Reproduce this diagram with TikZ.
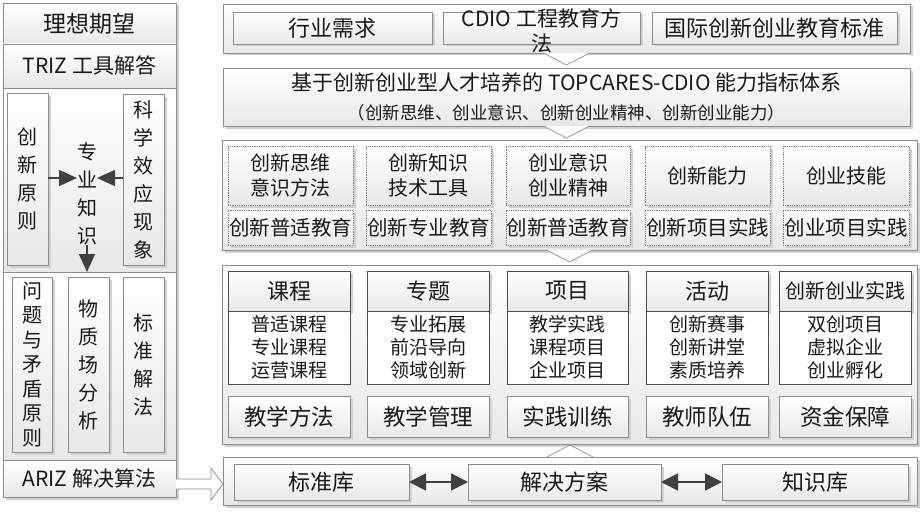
\documentclass[tikz,border=0pt]{standalone}
\usepackage{fontspec}
\setmainfont{Noto Sans CJK SC}
\usetikzlibrary{shadows,arrows.meta,calc}

\tikzset{
 base/.style={inner sep=0pt, outer sep=0pt, align=center, font=\fontsize{21}{25}\selectfont, text=black!90},
 shd/.style={drop shadow={shadow xshift=2.5pt, shadow yshift=-2.5pt, fill=black!18, opacity=1}},
 frame/.style={base, draw=black!45, line width=0.8pt, top color=white, bottom color=black!9, shd},
 dotbox/.style={base, draw=black!50, line width=0.8pt, densely dotted, top color=white, bottom color=black!9, shd},
 hdr/.style={base, draw=black!70, line width=0.8pt, top color=white, bottom color=black!9, font=\fontsize{22}{26}\selectfont},
 lst/.style={base, draw=black!70, line width=0.8pt, fill=white, font=\fontsize{19}{23}\selectfont},
 vt/.style={font=\fontsize{20}{28}\selectfont},
 chev/.style={draw=black!40, fill=white, line width=0.8pt},
 arr/.style={draw=black!75, line width=1.5pt, -{Triangle[length=18pt,width=16pt]}},
 dbl/.style={draw=black!75, line width=1.8pt, {Triangle[length=17pt,width=17pt]}-{Triangle[length=17pt,width=17pt]}},
 hollow/.style={draw=black!45, fill=white, line width=0.8pt},
}
\newcommand\bx[7]{\node[#6, minimum width={(#4-#2)*1pt}, minimum height={(#5-#3)*1pt}] (#1) at ({(#2+#4)/2},{(#3+#5)/2}) {#7};}

\begin{document}
\begin{tikzpicture}[x=1pt,y=-1pt]
\useasboundingbox (0,0) rectangle (920,511);

% ---------- left column ----------
\bx{L1}{3}{3}{176}{44}{frame,font=\fontsize{23}{27}\selectfont}{理想期望}
\bx{L2}{3}{44}{176}{88}{frame}{TRIZ 工具解答}
\bx{L3}{3}{88}{176}{272}{frame}{}
\bx{L4}{3}{272}{176}{460}{frame}{}
\bx{L5}{3}{460}{176}{497}{frame}{ARIZ 解决算法}

\bx{cx}{7}{93}{48}{265}{frame,vt}{创\\新\\原\\则}
\bx{kx}{123}{94}{164}{265}{frame,vt}{科\\学\\效\\应\\现\\象}
\node[base,vt] (zy) at (87,194) {专\\业\\知\\识};
\draw[arr] (cx.east |- 0,178) -- (zy.west |- 0,178);
\draw[arr] (kx.west |- 0,178) -- (zy.east |- 0,178);
\draw[arr] (zy.south) -- (zy.south |- L4.north);

\bx{wt}{12}{277}{52}{452}{frame,font=\fontsize{20}{24.5}\selectfont}{问\\题\\与\\矛\\盾\\原\\则}
\bx{wz}{68}{277}{109}{452}{frame,vt}{物\\质\\场\\分\\析}
\bx{bj}{123}{277}{164}{452}{frame,vt}{标\\准\\解\\法}

% ---------- right column ----------
\bx{R1}{223}{4}{910}{53}{frame}{}
\bx{hy}{233}{12}{432}{44}{frame,font=\fontsize{22}{26}\selectfont}{行业需求}
\bx{cdio}{443}{12}{640}{44}{frame}{}
\bx{gj}{652}{12}{897}{44}{frame,font=\fontsize{22}{26}\selectfont}{国际创新创业教育标准}
\node[base] (cdiot) at ($(cdio.center)+(0,3)$) {CDIO 工程教育方\\法};
\draw[chev] ($(R1.south)+(-23,0)$) -- ($(R1.south)+(0,12)$) -- ($(R1.south)+(23,0)$);

\bx{R2}{223}{68}{910}{126}{frame}{基于创新创业型人才培养的 TOPCARES-CDIO 能力指标体系\\[4pt]{\fontsize{17.5}{20}\selectfont （创新思维、创业意识、创新创业精神、创新创业能力）}}
\draw[chev] ($(R2.south)+(-23,0)$) -- ($(R2.south)+(0,12)$) -- ($(R2.south)+(23,0)$);

\bx{R3}{222}{140}{917}{250}{frame}{}
\bx{a1}{228}{146}{353}{205}{dotbox,font=\fontsize{20}{25}\selectfont}{创新思维\\意识方法}
\bx{a2}{366}{146}{491}{205}{dotbox,font=\fontsize{20}{25}\selectfont}{创新知识\\技术工具}
\bx{a3}{506}{146}{630}{205}{dotbox,font=\fontsize{20}{25}\selectfont}{创业意识\\创业精神}
\bx{a4}{645}{146}{770}{205}{dotbox,font=\fontsize{20}{25}\selectfont}{创新能力}
\bx{a5}{783}{146}{909}{205}{dotbox,font=\fontsize{20}{25}\selectfont}{创业技能}
\bx{b1}{228}{210}{353}{245}{dotbox,font=\fontsize{20.5}{25}\selectfont}{创新普适教育}
\bx{b2}{366}{210}{491}{245}{dotbox,font=\fontsize{20.5}{25}\selectfont}{创新专业教育}
\bx{b3}{506}{210}{630}{245}{dotbox,font=\fontsize{20.5}{25}\selectfont}{创新普适教育}
\bx{b4}{645}{210}{770}{245}{dotbox,font=\fontsize{20.5}{25}\selectfont}{创新项目实践}
\bx{b5}{783}{210}{909}{245}{dotbox,font=\fontsize{20.5}{25}\selectfont}{创业项目实践}
\draw[chev] ($(R3.south)+(-23,0)$) -- ($(R3.south)+(0,12)$) -- ($(R3.south)+(23,0)$);

\bx{R4}{222}{265}{917}{444}{frame}{}
\bx{h1}{228}{271}{350}{311}{hdr,shd}{课程}
\bx{h2}{367}{271}{489}{311}{hdr,shd}{专题}
\bx{h3}{507}{271}{628}{311}{hdr,shd}{项目}
\bx{h4}{646}{271}{768}{311}{hdr,shd}{活动}
\bx{h5}{779}{271}{911}{311}{hdr,shd,font=\fontsize{20}{24}\selectfont}{创新创业实践}
\bx{l1}{228}{311}{350}{384}{lst}{普适课程\\专业课程\\运营课程}
\bx{l2}{367}{311}{489}{384}{lst}{专业拓展\\前沿导向\\领域创新}
\bx{l3}{507}{311}{628}{384}{lst}{教学实践\\课程项目\\企业项目}
\bx{l4}{646}{311}{768}{384}{lst}{创新赛事\\创新讲堂\\素质培养}
\bx{l5}{779}{311}{911}{384}{lst}{双创项目\\虚拟企业\\创业孵化}
\bx{m1}{228}{396}{350}{437}{frame,font=\fontsize{22.5}{26}\selectfont}{教学方法}
\bx{m2}{367}{396}{489}{437}{frame,font=\fontsize{22.5}{26}\selectfont}{教学管理}
\bx{m3}{507}{396}{628}{437}{frame,font=\fontsize{22.5}{26}\selectfont}{实践训练}
\bx{m4}{646}{396}{768}{437}{frame,font=\fontsize{22.5}{26}\selectfont}{教师队伍}
\bx{m5}{779}{396}{911}{437}{frame,font=\fontsize{22.5}{26}\selectfont}{资金保障}

\bx{R5}{223}{457}{917}{505}{frame}{}
\bx{k1}{234}{464}{409}{500}{frame,font=\fontsize{22}{26}\selectfont}{标准库}
\bx{k2}{468}{464}{661}{500}{frame,font=\fontsize{22}{26}\selectfont}{解决方案}
\bx{k3}{722}{464}{908}{500}{frame,font=\fontsize{22}{26}\selectfont}{知识库}
\draw[dbl] (k1.east) -- (k2.west);
\draw[dbl] (k2.east) -- (k3.west);
\draw[chev] ($(R5.north)+(-23,0)$) -- ($(R5.north)+(0,-12)$) -- ($(R5.north)+(23,0)$);

% hollow arrow from ARIZ to R5
\coordinate (ha) at (L5.east |- 0,484);
\coordinate (hb) at (R5.west |- 0,484);
\draw[hollow] ($(ha)+(0,-5)$) -- ($(hb)+(-12,-5)$) -- ($(hb)+(-12,-16)$) -- (hb)
  -- ($(hb)+(-12,16)$) -- ($(hb)+(-12,5)$) -- ($(ha)+(0,5)$);
\end{tikzpicture}
\end{document}
